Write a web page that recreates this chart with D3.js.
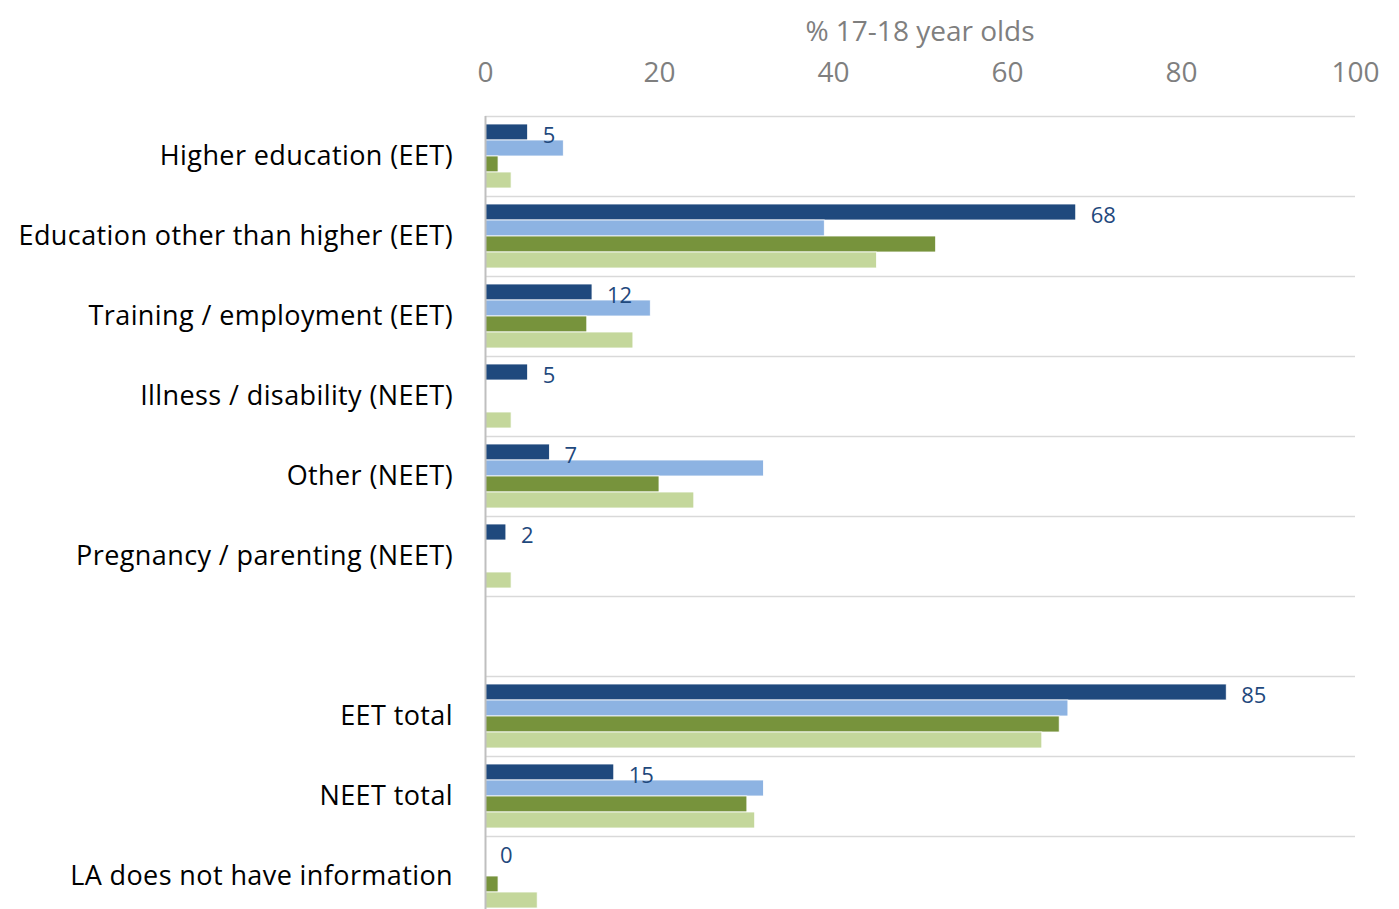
<!DOCTYPE html>
<html>
<head>
<meta charset="utf-8">
<script src="https://cdn.jsdelivr.net/npm/d3@7"></script>
<style>
  body { margin: 0; background: #fff; }
  text { font-family: "Open Sans", "Noto Sans", sans-serif; }
</style>
</head>
<body>
<div id="chart"></div>
<script>
var categories = ["Higher education (EET)", "Education other than higher (EET)", "Training / employment (EET)",
    "Illness / disability (NEET)", "Other (NEET)", "Pregnancy / parenting (NEET)", "",
    "EET total", "NEET total", "LA does not have information"];
var seriesNames = ["LA", "Comparator 1", "Comparator 2", "Comparator 3"];
var laValues = [4.9, 67.9, 12.3, 4.9, 7.4, 2.4, null, 85.2, 14.8, 0];
var comp1Values = [9, 39, 19, null, 32, null, null, 67, 32, null];
var comp2Values = [1.5, 51.8, 11.7, null, 20, null, null, 66, 30.1, 1.5];
var comp3Values = [3, 45, 17, 3, 24, 3, null, 64, 31, 6];
var ticks = [0, 20, 40, 60, 80, 100];

var canvasWidth = 1399;
var canvasHeight = 909;
var colors = ["#1f497d", "#8db3e2", "#77933c", "#c4d79b"];
var allSeries = [laValues, comp1Values, comp2Values, comp3Values];

var svg = d3.select("#chart")
    .append("svg")
    .attr("width", canvasWidth)
    .attr("height", canvasHeight);

/*Scales*/
var xScale = d3.scaleLinear().domain([0, 100]).range([485, 1355]);
var yScale = d3.scaleBand().domain(d3.range(categories.length)).range([116, 916]);
var inner = d3.scaleBand().domain(d3.range(seriesNames.length)).range([0, yScale.bandwidth()]).paddingInner(0).paddingOuter(0.5);

/*Gridlines*/
svg.append("g")
    .selectAll("line")
    .data(d3.range(categories.length + 1))
    .join("line")
    .attr("x1", xScale(0))
    .attr("x2", xScale(100))
    .attr("y1", function(d){ return d < categories.length ? yScale(d) + 0.5 : yScale(d - 1) + yScale.bandwidth() + 0.5; })
    .attr("y2", function(d){ return d < categories.length ? yScale(d) + 0.5 : yScale(d - 1) + yScale.bandwidth() + 0.5; })
    .attr("stroke", "#d9d9d9")
    .attr("stroke-width", 1.5);

/*Top axis*/
var axis = svg.append("g")
    .attr("transform", "translate(0,72)")
    .call(d3.axisTop(xScale).tickValues(ticks).tickSize(0).tickPadding(0));
axis.select(".domain").remove();
axis.selectAll("text")
    .attr("fill", "#7f7f7f")
    .attr("font-size", 28)
    .attr("dy", "0.35em")
    .style("font-family", "'Open Sans', 'Noto Sans', sans-serif");

svg.append("text")
    .attr("x", xScale(50))
    .attr("y", 31)
    .attr("dy", "0.35em")
    .attr("text-anchor", "middle")
    .attr("fill", "#7f7f7f")
    .attr("font-size", 28)
    .text("% 17-18 year olds");

/*Bars*/
allSeries.forEach(function(values, s) {
    svg.append("g")
        .selectAll("rect")
        .data(values.map(function(v, i){ return {i: i, v: v}; }).filter(function(d){ return d.v !== null && d.v > 0; }))
        .join("rect")
        .attr("x", xScale(0))
        .attr("y", function(d){ return yScale(d.i) + inner(s); })
        .attr("width", function(d){ return xScale(d.v) - xScale(0); })
        .attr("height", inner.bandwidth())
        .attr("fill", colors[s])
        .attr("stroke", "#fff")
        .attr("stroke-width", 0.8);
});

/*Value labels for LA series*/
svg.append("g")
    .selectAll("text")
    .data(laValues.map(function(v, i){ return {i: i, v: v}; }).filter(function(d){ return d.v !== null; }))
    .join("text")
    .attr("x", function(d){ return xScale(d.v) + 15; })
    .attr("y", function(d){ return yScale(d.i) + inner(0) + inner.bandwidth() / 2 + 3; })
    .attr("dy", "0.35em")
    .attr("fill", "#1f497d")
    .attr("font-size", 22)
    .text(function(d){ return Math.round(d.v); });

/*Category labels*/
svg.append("g")
    .selectAll("text")
    .data(categories)
    .join("text")
    .attr("x", 453)
    .attr("y", function(d, i){ return yScale(i) + yScale.bandwidth() / 2; })
    .attr("dy", "0.35em")
    .attr("text-anchor", "end")
    .attr("fill", "#000")
    .attr("font-size", 27)
    .attr("letter-spacing", 0.4)
    .text(function(d){ return d; });

/*Vertical axis line*/
svg.append("line")
    .attr("x1", xScale(0) + 0.5)
    .attr("x2", xScale(0) + 0.5)
    .attr("y1", 116)
    .attr("y2", 916)
    .attr("stroke", "#bfbfbf")
    .attr("stroke-width", 2);
</script>
</body>
</html>
